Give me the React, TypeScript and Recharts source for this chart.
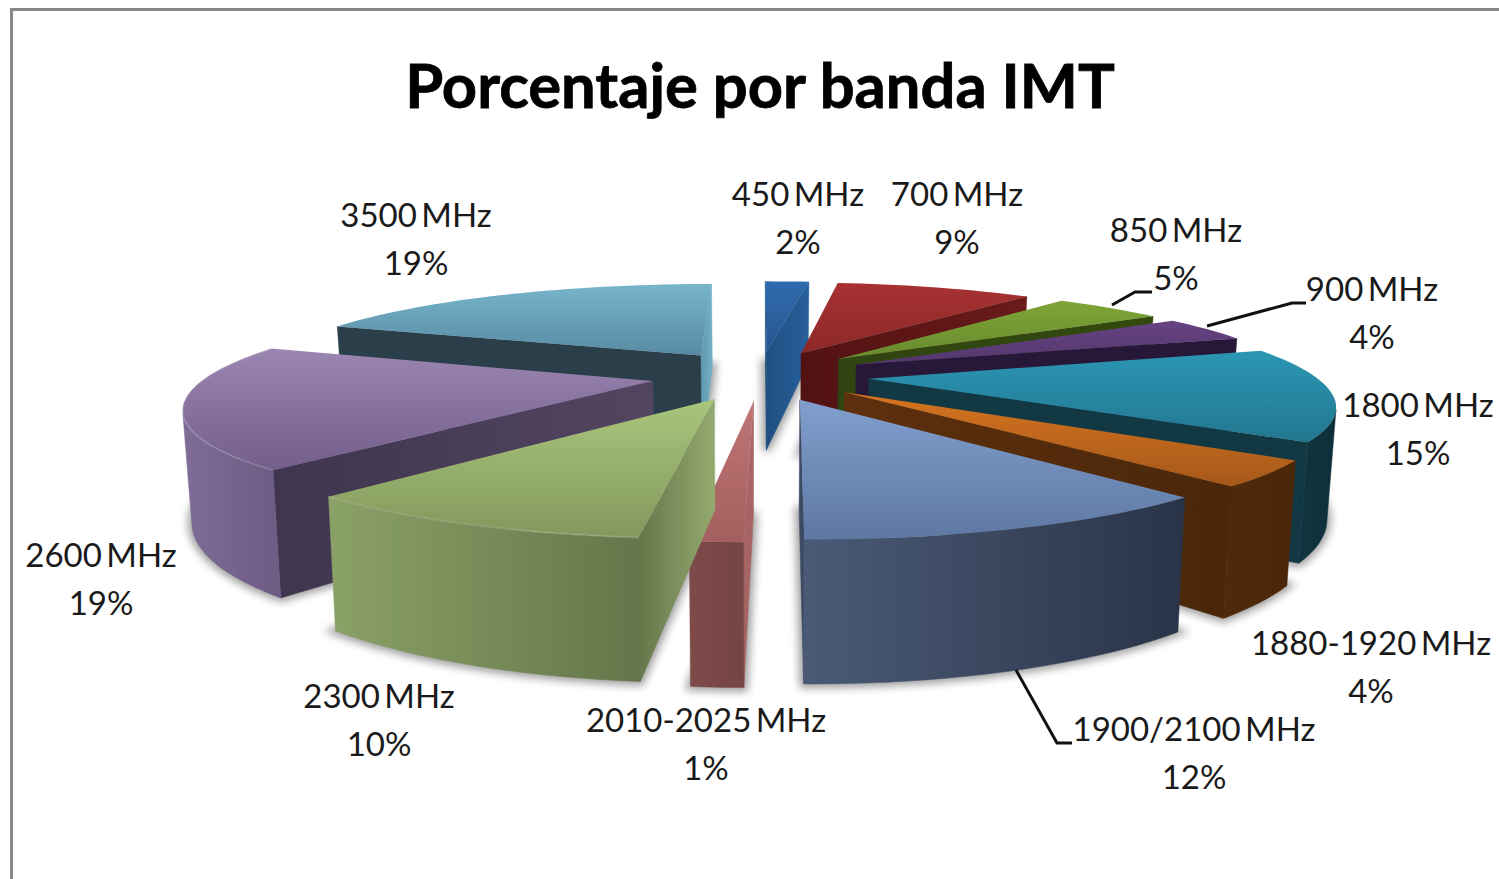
import { PieChart, Pie } from 'recharts'

const bands = ['450 MHz', '700 MHz', '850 MHz', '900 MHz', '1800 MHz', '1880-1920 MHz', '1900/2100 MHz', '2010-2025 MHz', '2300 MHz', '2600 MHz', '3500 MHz']
// slice sizes, the printed labels are these rounded
const shares = [2, 9, 4.9, 4.1, 14.7, 3.9, 11.6, 1.4, 9.8, 19.45, 19.15]

// back to front, so nearer slices cover the ones behind
const drawOrder = [0, 1, 2, 3, 10, 9, 4, 5, 7, 8, 6]

const topLight = ['#2f6bb0', '#a83232', '#7ea538', '#674383', '#2b97b4', '#d6741f', '#819fce', '#be7676', '#a9c67c', '#9b86b2', '#77b5cb']
const topDark = ['#27558e', '#8c2828', '#688a2e', '#53376c', '#22768f', '#a5581a', '#5d78a2', '#a55e5e', '#82975c', '#735e8c', '#588ba3']
const wallLight = ['#1f4f80', '#5a1414', '#2f4410', '#27183a', '#123c48', '#4e290b', '#4a5a76', '#7e4a4a', '#8aa167', '#806d97', '#2a3f4a']
const wallDark = ['#1f4f80', '#5a1414', '#2f4410', '#27183a', '#0e2f39', '#4a270a', '#2a3448', '#754444', '#65764a', '#6e5c85', '#2a3f4a']
// cut faces: colour at the centre of the pie, colour at the rim
const startCutIn = ['#1f4f80', '#531212', '#2f4410', '#27183a', '#123844', '#5a2e0d', '#3c4a63', '#a66464', '#94a96f', '#524560', '#2a3f4a']
const startCutOut = ['#1f4f80', '#531212', '#2f4410', '#27183a', '#123844', '#5a2e0d', '#3c4a63', '#a66464', '#65764a', '#3f354e', '#2a3f4a']
const endCutIn = ['#1f4f80', '#521212', '#2f4410', '#27183a', '#123844', '#5e300e', '#3c4a63', '#a66464', '#8fa56b', '#443950', '#5f98ae']
const endCutOut = ['#27609c', '#6a1a1a', '#33490f', '#27183a', '#123844', '#4a270a', '#3c4a63', '#a66464', '#8fa56b', '#443950', '#72aec4']
const rimSlices = ['2300 MHz', '2600 MHz']

const labelCenters = [[798, 194], [957, 194], [1176, 230], [1372, 289], [1418, 405], [1371, 643], [1194, 729], [706, 720], [379, 696], [101, 555], [416, 215]]
const leaders: Record<string, string> = {
  '850 MHz': 'M1112 305 L1135 292 L1152 292',
  '900 MHz': 'M1207 326 L1292 303 L1306 303',
  '1900/2100 MHz': 'M1016 670 L1057 743 L1072 743',
}

const chartData = bands.map((name, i) => ({ name, value: shares[i] }))

// perspective of the 3D pie, pixels at the pie centre
const CAMERA = 1862
const VIEW_H = 426
const ASPECT = 1.07
const EXPLODE = 109
const WALL = 104.4
const TILT = 0.016
const FONT = 'Lato, Carlito, sans-serif'

const rad = (d: number) => (d * Math.PI) / 180

function projector(cx: number, cy: number, mid: number, r: number) {
  return (theta: number, radius: number, bottom: boolean) => {
    const wx = EXPLODE * Math.sin(rad(mid)) + radius * r * ASPECT * Math.sin(rad(theta))
    const wz = -EXPLODE * Math.cos(rad(mid)) - radius * r * Math.cos(rad(theta))
    const s = CAMERA / (CAMERA - wz)
    let x = cx + wx * s
    let y = cy + VIEW_H * (s - 1)
    if (bottom) {
      x -= (x - cx) * TILT
      y += WALL * s
    }
    return [x, y]
  }
}

const toPath = (pts: number[][]) => 'M' + pts.map((p) => p[0].toFixed(1) + ' ' + p[1].toFixed(1)).join(' L') + ' Z'

function signedArea(pts: number[][]) {
  let sum = 0
  pts.forEach((p, i) => {
    const q = pts[(i + 1) % pts.length]
    sum += p[0] * q[1] - q[0] * p[1]
  })
  return sum
}

function arcAngles(props: any) {
  const from = 90 - props.startAngle
  const to = 90 - props.endAngle
  const out: number[] = []
  const steps = Math.max(2, Math.ceil((to - from) / 2))
  for (let k = 0; k <= steps; k++) out.push(from + ((to - from) * k) / steps)
  return out
}

function ShadowShape(props: any) {
  const mid = 90 - props.midAngle
  const at = projector(props.cx, props.cy, mid, props.outerRadius)
  const base = [at(0, 0, true), ...arcAngles(props).map((t) => at(t, 1, true))]
  return <path d={toPath(base)} fill="#000" stroke="#000" strokeWidth={8} opacity={0.38} filter="url(#pieShadow)" />
}

function CutFace({ id, face, inner, outer }: any) {
  return (
    <g>
      <defs>
        <linearGradient id={id} gradientUnits="userSpaceOnUse" x1={face.apex[0]} y1={0} x2={face.rim[0]} y2={0}>
          <stop offset="0%" stopColor={inner} />
          <stop offset="100%" stopColor={outer} />
        </linearGradient>
      </defs>
      <path d={toPath(face.pts)} fill={`url(#${id})`} stroke={`url(#${id})`} strokeWidth={0.5} />
    </g>
  )
}

function SliceShape(props: any) {
  const i = bands.indexOf(props.name ?? props.payload?.name)
  const mid = 90 - props.midAngle
  const at = projector(props.cx, props.cy, mid, props.outerRadius)
  const angles = arcAngles(props)
  const arcTop = angles.map((t) => at(t, 1, false))
  const apexTop = at(0, 0, false)
  const apexBottom = at(0, 0, true)
  const first = angles[0]
  const last = angles[angles.length - 1]

  // faces are walked clockwise seen from above: negative area faces the viewer
  const startFace = [apexTop, at(first, 1, false), at(first, 1, true), apexBottom]
  const endFace = [at(last, 1, false), apexTop, apexBottom, at(last, 1, true)]
  const visible: number[] = []
  angles.forEach((t, k) => {
    if (k === angles.length - 1) return
    const quad = [at(t, 1, false), at(angles[k + 1], 1, false), at(angles[k + 1], 1, true), at(t, 1, true)]
    if (signedArea(quad) < 0) visible.push(k, k + 1)
  })
  const wallAngles = visible.length ? angles.slice(Math.min(...visible), Math.max(...visible) + 1) : []
  const wall = [...wallAngles.map((t) => at(t, 1, false)), ...[...wallAngles].reverse().map((t) => at(t, 1, true))]

  const top = [apexTop, ...arcTop]
  const ys = top.map((p) => p[1])
  const xs = arcTop.map((p) => p[0])
  const topId = 'top' + i
  const wallId = 'wall' + i

  return (
    <g>
      <defs>
        <linearGradient id={topId} gradientUnits="userSpaceOnUse" x1={0} x2={0} y1={Math.min(...ys)} y2={Math.max(...ys)}>
          <stop offset="0%" stopColor={topLight[i]} />
          <stop offset="100%" stopColor={topDark[i]} />
        </linearGradient>
        <linearGradient id={wallId} gradientUnits="userSpaceOnUse" y1={0} y2={0} x1={Math.min(...xs)} x2={Math.max(...xs)}>
          <stop offset="0%" stopColor={wallLight[i]} />
          <stop offset="100%" stopColor={wallDark[i]} />
        </linearGradient>
      </defs>
      {signedArea(startFace) < 0 && (
        <CutFace id={'cutA' + i} face={{ pts: startFace, apex: apexTop, rim: startFace[1] }} inner={startCutIn[i]} outer={startCutOut[i]} />
      )}
      {signedArea(endFace) < 0 && (
        <CutFace id={'cutB' + i} face={{ pts: endFace, apex: apexTop, rim: endFace[0] }} inner={endCutIn[i]} outer={endCutOut[i]} />
      )}
      {wall.length > 0 && <path d={toPath(wall)} fill={`url(#${wallId})`} stroke={`url(#${wallId})`} strokeWidth={0.5} />}
      <path d={toPath(top)} fill={`url(#${topId})`} />
      {rimSlices.includes(bands[i]) && (
        <path d={'M' + arcTop.map((p) => p.join(' ')).join(' L')} fill="none" stroke="#fff" strokeOpacity={0.14} strokeWidth={2} />
      )}
    </g>
  )
}

function SliceLabel(props: any) {
  const name = props.name ?? props.payload?.name
  const i = bands.indexOf(name)
  const [x, y] = labelCenters[i]
  const textProps = { x, textAnchor: 'middle', fontFamily: FONT, fontSize: 33, wordSpacing: -4, fill: '#1a1a1a' } as any
  return (
    <g>
      {leaders[name] && <path d={leaders[name]} fill="none" stroke="#111" strokeWidth={3} />}
      <text {...textProps} y={y + 12}>{name}</text>
      <text {...textProps} y={y + 60}>{Math.round(props.percent * 100)}%</text>
    </g>
  )
}

const noShape = () => <g />

export default function App() {
  const common = {
    data: chartData,
    dataKey: 'value',
    nameKey: 'name',
    cx: 760,
    cy: 375,
    outerRadius: 416,
    startAngle: 90,
    endAngle: -270,
    stroke: 'none',
    isAnimationActive: false,
    labelLine: false,
  }
  return (
    <div style={{ position: 'absolute', left: 0, top: 0, width: 1499, height: 879, background: '#fff', overflow: 'hidden' }}>
      <div style={{ position: 'absolute', left: 10, top: 8, right: 0, bottom: 0, borderLeft: '3px solid #888', borderTop: '3px solid #888' }} />
      <div style={{ position: 'absolute', left: 0, top: 0 }}>
        <PieChart width={1499} height={879} margin={{ top: 0, right: 0, bottom: 0, left: 0 }}>
          <defs>
            <filter id="pieShadow" x="-30%" y="-30%" width="160%" height="160%">
              <feGaussianBlur stdDeviation="4" />
            </filter>
          </defs>
          <text x={760} y={108} textAnchor="middle" fontFamily={FONT} fontWeight={700} fontSize={61.5} stroke="#000" strokeWidth={0.8} fill="#000">
            Porcentaje por banda IMT
          </text>
          <Pie {...common} shape={ShadowShape} />
          {drawOrder.map((idx) => (
            <Pie
              key={bands[idx]}
              {...common}
              shape={(p: any) => ((p.name ?? p.payload?.name) === bands[idx] ? <SliceShape {...p} /> : <g />)}
            />
          ))}
          <Pie {...common} shape={noShape} label={SliceLabel} />
        </PieChart>
      </div>
    </div>
  )
}
